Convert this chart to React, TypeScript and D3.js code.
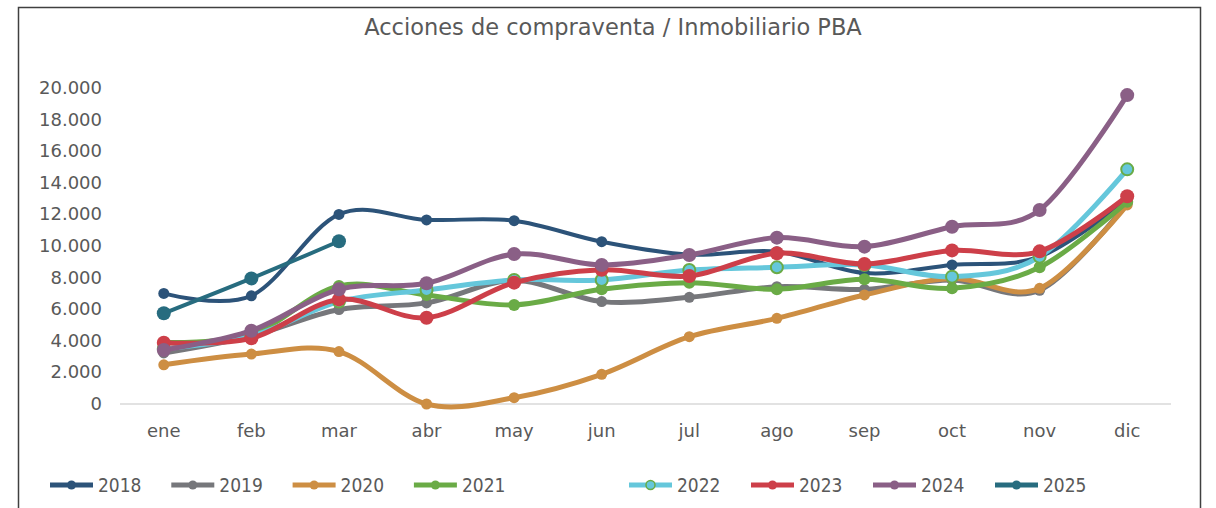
import React from 'react';
import * as d3 from 'd3';

const months = ['ene', 'feb', 'mar', 'abr', 'may', 'jun', 'jul', 'ago', 'sep', 'oct', 'nov', 'dic'];
const yTicks = [0, 2000, 4000, 6000, 8000, 10000, 12000, 14000, 16000, 18000, 20000];

const v2018 = [7000, 6850, 12000, 11650, 11600, 10270, 9450, 9640, 8290, 8800, 9320, 12900];
const v2019 = [3230, 4300, 5980, 6400, 7820, 6480, 6750, 7420, 7250, 7850, 7200, 12700];
const v2020 = [2480, 3160, 3320, 0, 400, 1880, 4260, 5420, 6900, 7950, 7320, 12600];
const v2021 = [3900, 4400, 7470, 6900, 6270, 7260, 7680, 7260, 7890, 7320, 8650, 12800];
const v2022 = [3500, 4300, 6480, 7220, 7850, 7850, 8480, 8650, 8800, 8060, 9320, 14850];
const v2023 = [3880, 4160, 6620, 5460, 7680, 8500, 8100, 9540, 8860, 9720, 9660, 13150];
const v2024 = [3420, 4640, 7260, 7640, 9490, 8800, 9430, 10530, 9960, 11220, 12280, 19550];
const v2025 = [5740, 7950, 10300];

const series = [
  { name: '2018', values: v2018, color: '#2c5379', width: 4, r: 5.5 },
  { name: '2019', values: v2019, color: '#76777b', width: 5, r: 5.5 },
  { name: '2020', values: v2020, color: '#cd8e43', width: 5, r: 5.5 },
  { name: '2021', values: v2021, color: '#6aab46', width: 5, r: 6 },
  { name: '2022', values: v2022, color: '#65c7db', width: 5, r: 6, stroke: '#6aab46' },
  { name: '2023', values: v2023, color: '#cd3f49', width: 5, r: 7 },
  { name: '2024', values: v2024, color: '#8a5f86', width: 5, r: 7 },
  { name: '2025', values: v2025, color: '#276c7f', width: 4, r: 7 },
];

const font = 'DejaVu Sans, Verdana, sans-serif';
const textColor = '#595959';

export default function App() {
  const x = d3.scaleBand<string>().domain(months).range([120, 1171]);
  const y = d3.scaleLinear().domain([0, 20000]).range([404, 88]);
  const fmt = (v: number) => d3.format(',')(v).replace(/,/g, '.');
  const line = d3
    .line<number>()
    .x((_, i) => (x(months[i]) as number) + x.bandwidth() / 2)
    .y((d) => y(d))
    .curve(d3.curveCatmullRom.alpha(0));

  return (
    <svg width={1216} height={508} style={{ position: 'absolute', left: 0, top: 0 }}>
      <rect x={0} y={0} width={1216} height={508} fill="#fff" />
      <path d="M18.5,520 V7.5 H1200.5 V520" fill="none" stroke="#404040" strokeWidth={1.5} />
      <text x={613} y={35} textAnchor="middle" fontFamily={font} fontSize={22.5} fill={textColor}>
        Acciones de compraventa / Inmobiliario PBA
      </text>
      {yTicks.map((t) => (
        <text key={t} x={102} y={y(t) + 6} textAnchor="end" fontFamily={font} fontSize={18} fill={textColor}>
          {fmt(t)}
        </text>
      ))}
      <line x1={120} x2={1171} y1={y(0)} y2={y(0)} stroke="#d9d9d9" strokeWidth={1.5} />
      {months.map((m) => (
        <text key={m} x={(x(m) as number) + x.bandwidth() / 2} y={437} textAnchor="middle" fontFamily={font} fontSize={18} fill={textColor}>
          {m}
        </text>
      ))}
      {series.map((s) => (
        <g key={s.name}>
          <path d={line(s.values) || ''} fill="none" stroke={s.color} strokeWidth={s.width} strokeLinecap="round" />
          {s.values.map((v, i) => (
            <circle
              key={i}
              cx={(x(months[i]) as number) + x.bandwidth() / 2}
              cy={y(v)}
              r={s.r}
              fill={s.color}
              stroke={s.stroke || s.color}
              strokeWidth={s.stroke ? 2 : 0}
            />
          ))}
        </g>
      ))}
      {series.map((s, i) => {
        const lx = i < 4 ? 50 + i * 121.3 : 629 + (i - 4) * 122;
        return (
          <g key={s.name} transform={`translate(${lx},485)`}>
            <line x1={0} x2={43} y1={0} y2={0} stroke={s.color} strokeWidth={5} />
            <circle
              cx={21.5}
              cy={0}
              r={4.5}
              fill={s.stroke ? '#65c7db' : s.color}
              stroke={s.stroke || 'none'}
              strokeWidth={s.stroke ? 1.5 : 0}
            />
            <text x={48} y={7} fontFamily="DejaVu Sans Condensed, sans-serif" fontSize={19} fill={textColor}>
              {s.name}
            </text>
          </g>
        );
      })}
    </svg>
  );
}
